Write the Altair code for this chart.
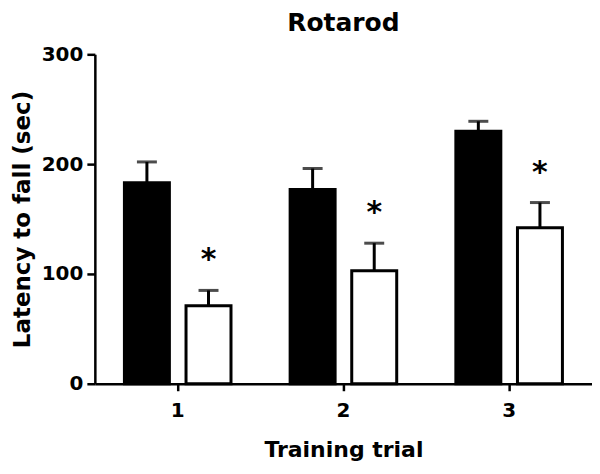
import altair as alt
import pandas as pd

trials = ["1", "2", "3"]
groups = ["Control", "Mutant"]
control_mean = [183, 177, 230]
control_sem = [19, 19, 9]
mutant_mean = [71, 103, 142]
mutant_sem = [14, 25, 23]
star = ["*", "*", "*"]

rows = []
for i, t in enumerate(trials):
    rows.append({"trial": t, "group": "Control", "mean": control_mean[i],
                 "top": control_mean[i] + control_sem[i], "star": ""})
    rows.append({"trial": t, "group": "Mutant", "mean": mutant_mean[i],
                 "top": mutant_mean[i] + mutant_sem[i], "star": star[i]})
df = pd.DataFrame(rows)

FONT = "DejaVu Sans"

x = alt.X("trial:N", title="Training trial",
          scale=alt.Scale(domain=trials, paddingInner=0, paddingOuter=0),
          axis=alt.Axis(labelAngle=0, labelFont=FONT, labelFontSize=20, labelFontWeight="bold",
                        labelColor="black", labelPadding=10,
                        titleFont=FONT, titleFontSize=22, titleFontWeight="bold", titleColor="black",
                        titlePadding=19,
                        domainColor="black", domainWidth=2.5, tickColor="black", tickWidth=2.5,
                        tickSize=7, grid=False))
xo = alt.XOffset("group:N", scale=alt.Scale(domain=groups, paddingInner=0.27, paddingOuter=0.48))
y = alt.Y("mean:Q", title="Latency to fall (sec)",
          scale=alt.Scale(domain=[0, 300], nice=False),
          axis=alt.Axis(values=[0, 100, 200, 300], labelFont=FONT, labelFontSize=20,
                        labelFontWeight="bold", labelColor="black", labelPadding=4,
                        titleFont=FONT, titleFontSize=23, titleFontWeight="bold", titleColor="black",
                        titlePadding=7,
                        domainColor="black", domainWidth=2.5, tickColor="black", tickWidth=2.5,
                        tickSize=8, grid=False))

color = alt.Color("group:N", scale=alt.Scale(domain=groups, range=["black", "white"]), legend=None)

bars = alt.Chart(df).mark_bar(stroke="black", strokeWidth=3).encode(x=x, xOffset=xo, y=y, fill=color)

err = alt.Chart(df).mark_rule(color="black", strokeWidth=3).encode(
    x=x, xOffset=xo, y="mean:Q", y2="top:Q")

cap = alt.Chart(df).mark_tick(color="black", thickness=3, size=20, orient="horizontal").encode(
    x=x, xOffset=xo, y="top:Q")

stars = alt.Chart(df).mark_text(font=FONT, fontSize=30, fontWeight="bold", color="black",
                                baseline="middle", dy=-30).encode(
    x=x, xOffset=xo, y="top:Q", text="star:N")

chart = alt.layer(bars, err, cap, stars).properties(
    width=498, height=330,
    title=alt.Title("Rotarod", font=FONT, fontSize=25, fontWeight="bold", color="black", offset=8),
    autosize=alt.AutoSizeParams(type="none"),
    padding={"left": 87, "top": 46, "right": 0, "bottom": 82},
).configure(background="white", view=alt.ViewConfig(stroke=None))

chart.save("out.html", embed_options={"renderer": "svg", "actions": False})
